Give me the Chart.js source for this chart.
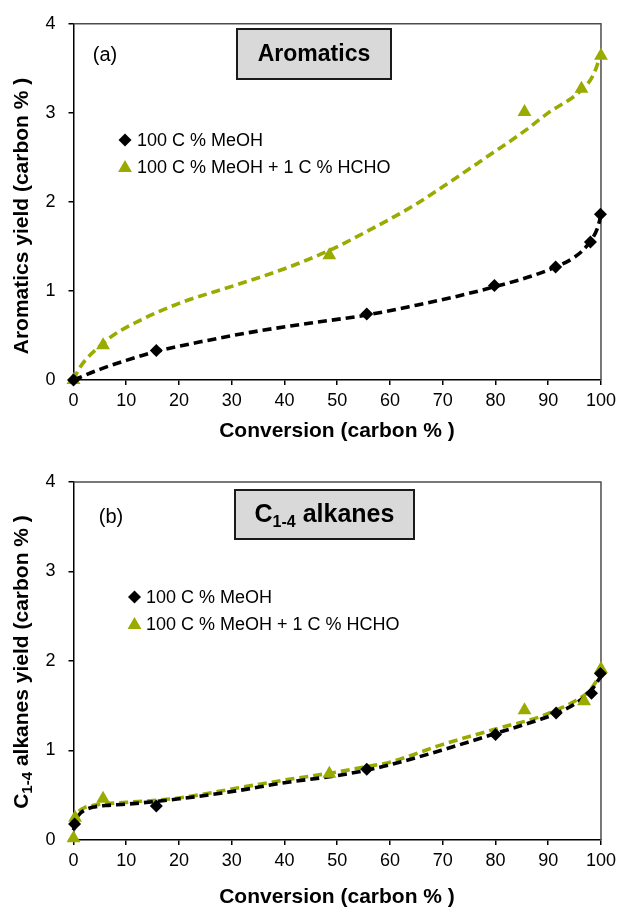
<!DOCTYPE html>
<html>
<head>
<meta charset="utf-8">
<script src="https://cdn.jsdelivr.net/npm/chart.js@4.4.1/dist/chart.umd.min.js"></script>
<style>
  body { margin: 0; background: #fff; }
  #wrap { position: relative; width: 621px; height: 907px; }
  canvas { position: absolute; left: 0; }
</style>
</head>
<body>
<div id="wrap">
  <canvas id="chartA" width="621" height="450" style="top:0px"></canvas>
  <canvas id="chartB" width="621" height="457" style="top:450px"></canvas>
</div>
<script>
const conversionTicks = [0, 10, 20, 30, 40, 50, 60, 70, 80, 90, 100];
const yieldTicks = [0, 1, 2, 3, 4];
const seriesNames = ['100 C % MeOH', '100 C % MeOH + 1 C % HCHO'];

// (a) aromatics - measured points
const aroMeohX = [0, 15.7, 55.6, 79.8, 91.4, 98.0, 99.9];
const aroMeohY = [0, 0.33, 0.74, 1.06, 1.27, 1.55, 1.86];
const aroHchoX = [0, 5.6, 48.5, 85.5, 96.3, 100];
const aroHchoY = [0, 0.39, 1.40, 3.01, 3.27, 3.64];
// (a) dashed trend lines
const aroMeohFitX = [0, 5, 10, 15.7, 25, 35, 45, 55.6, 65, 72, 80, 87, 91.4, 95, 97.5, 99.3, 100];
const aroMeohFitY = [0, 0.12, 0.22, 0.32, 0.44, 0.55, 0.64, 0.73, 0.84, 0.93, 1.05, 1.17, 1.27, 1.38, 1.52, 1.70, 1.85];
const aroHchoFitX = [0, 1, 2.5, 5, 7, 11.6, 20, 31, 40, 48.3, 56, 64.8, 70, 77, 85.6, 90, 96, 98.5, 100];
const aroHchoFitY = [0, 0.12, 0.24, 0.38, 0.48, 0.64, 0.86, 1.07, 1.25, 1.45, 1.68, 1.97, 2.17, 2.45, 2.80, 3.00, 3.24, 3.42, 3.66];

// (b) C1-4 alkanes - measured points
const alkMeohX = [0.2, 15.7, 55.6, 80.0, 91.5, 98.2, 99.9];
const alkMeohY = [0.18, 0.38, 0.79, 1.18, 1.42, 1.64, 1.86];
const alkHchoX = [0, 0.3, 5.6, 48.5, 85.5, 96.8, 100];
const alkHchoY = [0.02, 0.25, 0.46, 0.74, 1.45, 1.55, 1.91];
// (b) dashed trend lines
const alkMeohFitX = [0, 0.3, 1, 2, 4, 6, 10, 20, 31, 40, 50, 55.6, 60, 69.6, 80, 88.6, 91.4, 95, 98, 100];
const alkMeohFitY = [0.11, 0.20, 0.28, 0.33, 0.37, 0.385, 0.40, 0.46, 0.55, 0.64, 0.72, 0.78, 0.84, 1.00, 1.19, 1.35, 1.41, 1.52, 1.66, 1.83];
const alkHchoFitX = [0, 0.3, 1, 2, 4, 6, 10, 20, 31, 40, 50, 55.6, 60, 69.6, 80, 88.6, 91.4, 95, 98, 100];
const alkHchoFitY = [0.18, 0.26, 0.32, 0.36, 0.39, 0.405, 0.42, 0.47, 0.58, 0.67, 0.76, 0.82, 0.87, 1.06, 1.24, 1.38, 1.45, 1.55, 1.68, 1.86];

const GREEN = '#9aab00';
const FONT = "'Liberation Sans', Arial, sans-serif";

function pts(xs, ys) {
    return xs.map((x, i) => ({x: x, y: ys[i]}));
}

function drawDiamond(ctx, x, y, r) {
    ctx.beginPath();
    ctx.moveTo(x - r, y); ctx.lineTo(x, y - r); ctx.lineTo(x + r, y); ctx.lineTo(x, y + r);
    ctx.closePath();
    ctx.fillStyle = '#000';
    ctx.fill();
}

function drawTriangle(ctx, x, y, r) {
    ctx.beginPath();
    ctx.moveTo(x, y - r);
    ctx.lineTo(x + r * 0.866, y + r * 0.5);
    ctx.lineTo(x - r * 0.866, y + r * 0.5);
    ctx.closePath();
    ctx.fillStyle = GREEN;
    ctx.fill();
}

// draws a run of [text, isSub] pieces centred on 0
function drawPieces(ctx, pieces, size, subSize) {
    let total = 0;
    pieces.forEach(p => {
        ctx.font = 'bold ' + (p[1] ? subSize : size) + 'px ' + FONT;
        total += ctx.measureText(p[0]).width;
    });
    let x = -total / 2;
    ctx.textAlign = 'left';
    ctx.textBaseline = 'middle';
    pieces.forEach(p => {
        ctx.font = 'bold ' + (p[1] ? subSize : size) + 'px ' + FONT;
        ctx.fillText(p[0], x, p[1] ? size * 0.3 : 0);
        x += ctx.measureText(p[0]).width;
    });
}

function makeChart(id, cfg) {
    const frame = {
        id: 'frame',
        beforeDatasetsDraw(chart) {
            const a = chart.chartArea, ctx = chart.ctx;
            ctx.save();
            ctx.strokeStyle = '#4d4d4d';
            ctx.lineWidth = 1.5;
            ctx.beginPath();
            ctx.moveTo(a.left, a.top); ctx.lineTo(a.right, a.top); ctx.lineTo(a.right, a.bottom);
            ctx.stroke();
            ctx.restore();
        }
    };
    const notes = {
        id: 'notes',
        afterDraw(chart) {
            const ctx = chart.ctx;
            ctx.save();
            // label box
            const b = cfg.box;
            ctx.fillStyle = '#d9d9d9';
            ctx.fillRect(b.x, b.y, b.w, b.h);
            ctx.strokeStyle = '#1a1a1a';
            ctx.lineWidth = 2;
            ctx.strokeRect(b.x, b.y, b.w, b.h);
            ctx.fillStyle = '#000';
            ctx.save();
            ctx.translate(b.x + b.w / 2, b.y + b.h / 2 + 1);
            drawPieces(ctx, cfg.boxText, cfg.boxSize, 16);
            ctx.restore();
            // panel letter
            ctx.font = '20px ' + FONT;
            ctx.textAlign = 'center';
            ctx.textBaseline = 'middle';
            ctx.fillText(cfg.letter, cfg.letterX, cfg.letterY);
            // legend
            const lg = cfg.legend;
            drawDiamond(ctx, lg.x, lg.y1, 6.5);
            drawTriangle(ctx, lg.x, lg.y2 + 1, 8);
            ctx.fillStyle = '#000';
            ctx.font = '18px ' + FONT;
            ctx.textAlign = 'left';
            ctx.fillText(seriesNames[0], lg.tx, lg.y1 + 1);
            ctx.fillText(seriesNames[1], lg.tx, lg.y2 + 1);
            // axis titles
            ctx.save();
            ctx.translate(337, cfg.xTitleY);
            drawPieces(ctx, [['Conversion (carbon % )', false]], 21, 15);
            ctx.restore();
            ctx.save();
            ctx.translate(22, cfg.yTitleY);
            ctx.rotate(-Math.PI / 2);
            drawPieces(ctx, cfg.yTitle, 21, 15);
            ctx.restore();
            ctx.restore();
        }
    };
    return new Chart(document.getElementById(id), {
        type: 'scatter',
        data: {
            datasets: [{
                label: seriesNames[0],
                data: pts(cfg.meohX, cfg.meohY),
                pointStyle: 'rectRot',
                pointRadius: 6.5,
                backgroundColor: '#000',
                borderWidth: 0,
                clip: false,
                order: 0,
            },
            {
                label: seriesNames[1],
                data: pts(cfg.hchoX, cfg.hchoY),
                pointStyle: 'triangle',
                pointRadius: 8,
                backgroundColor: GREEN,
                borderWidth: 0,
                clip: false,
                order: 1,
            },
            {
                label: 'fit MeOH',
                data: pts(cfg.meohFitX, cfg.meohFitY),
                showLine: true,
                pointRadius: 0,
                borderColor: '#000',
                borderWidth: 3.6,
                borderDash: [9, 5],
                cubicInterpolationMode: 'monotone',
                clip: false,
                order: 2,
            },
            {
                label: 'fit HCHO',
                data: pts(cfg.hchoFitX, cfg.hchoFitY),
                showLine: true,
                pointRadius: 0,
                borderColor: GREEN,
                borderWidth: 3.6,
                borderDash: [9, 5],
                cubicInterpolationMode: 'monotone',
                clip: false,
                order: 3,
            }]
        },
        options: {
            responsive: false,
            animation: false,
            events: [],
            layout: {padding: {top: cfg.top, right: 20, left: 0, bottom: 0}},
            plugins: {legend: {display: false}, tooltip: {enabled: false}},
            scales: {
                x: {
                    type: 'linear',
                    min: 0,
                    max: 100,
                    afterBuildTicks: s => { s.ticks = conversionTicks.map(v => ({value: v})); },
                    afterFit: s => { s.height = cfg.xHeight; },
                    border: {color: '#000', width: 1.5},
                    grid: {drawOnChartArea: false, color: '#000', tickLength: 5, lineWidth: 1.5},
                    ticks: {color: '#000', font: {family: FONT, size: 18}, padding: 5, maxRotation: 0},
                },
                y: {
                    type: 'linear',
                    min: 0,
                    max: 4,
                    afterBuildTicks: s => { s.ticks = yieldTicks.map(v => ({value: v})); },
                    afterFit: s => { s.width = 73.5; },
                    border: {color: '#000', width: 1.5},
                    grid: {drawOnChartArea: false, color: '#000', tickLength: 5, lineWidth: 1.5},
                    ticks: {color: '#000', font: {family: FONT, size: 18}, padding: 13},
                }
            }
        },
        plugins: [frame, notes]
    });
}

makeChart('chartA', {
    top: 20, xHeight: 70,
    meohX: aroMeohX, meohY: aroMeohY, hchoX: aroHchoX, hchoY: aroHchoY,
    meohFitX: aroMeohFitX, meohFitY: aroMeohFitY, hchoFitX: aroHchoFitX, hchoFitY: aroHchoFitY,
    box: {x: 237, y: 29, w: 154, h: 50},
    boxText: [['Aromatics', false]], boxSize: 23,
    letter: '(a)', letterX: 105, letterY: 55,
    legend: {x: 125, tx: 137, y1: 140, y2: 167},
    xTitleY: 431, yTitleY: 216,
    yTitle: [['Aromatics yield (carbon % )', false]],
});

makeChart('chartB', {
    top: 32, xHeight: 67,
    meohX: alkMeohX, meohY: alkMeohY, hchoX: alkHchoX, hchoY: alkHchoY,
    meohFitX: alkMeohFitX, meohFitY: alkMeohFitY, hchoFitX: alkHchoFitX, hchoFitY: alkHchoFitY,
    box: {x: 235, y: 40, w: 179, h: 49},
    boxText: [['C', false], ['1-4', true], [' alkanes', false]], boxSize: 25,
    letter: '(b)', letterX: 111, letterY: 67,
    legend: {x: 134.5, tx: 146, y1: 147, y2: 174},
    xTitleY: 447, yTitleY: 212,
    yTitle: [['C', false], ['1-4', true], [' alkanes yield (carbon % )', false]],
});
</script>
</body>
</html>
